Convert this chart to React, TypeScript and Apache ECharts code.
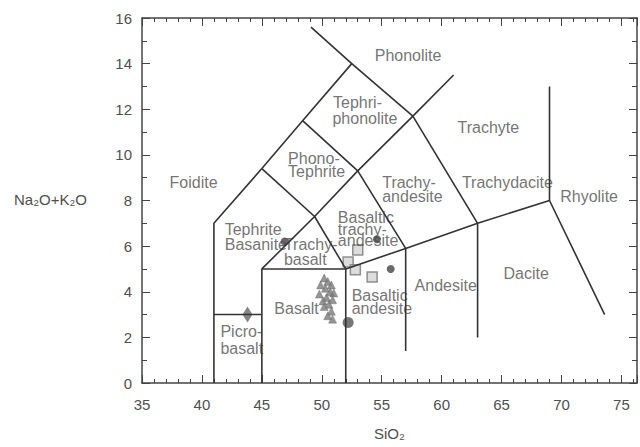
import React, { useEffect, useRef } from "react";
import * as echarts from "echarts";

// TAS field boundaries (SiO2, Na2O+K2O)
const boundaries: [number, number][][] = [
  [[41, 0], [41, 7], [45, 9.4], [48.4, 11.5], [52.5, 14], [49.1, 15.6]],
  [[52.5, 14], [57.6, 11.7], [63, 7], [69, 8], [73.6, 3]],
  [[41, 3], [45, 3]],
  [[45, 0], [45, 5], [52, 5], [52, 0]],
  [[45, 5], [49.4, 7.3], [52, 5]],
  [[52, 5], [57, 5.9], [63, 7]],
  [[45, 9.4], [49.4, 7.3]],
  [[48.4, 11.5], [53, 9.3], [57, 5.9], [57, 1.4]],
  [[49.4, 7.3], [53, 9.3], [57.6, 11.7], [61, 13.5]],
  [[63, 2], [63, 7]],
  [[69, 8], [69, 13]],
];

const regionLabels: [string, number, number, string][] = [
  ["Phonolite", 57.2, 14.35, "center"],
  ["Tephri-", 50.9, 12.3, "left"],
  ["phonolite", 50.85, 11.6, "left"],
  ["Trachyte", 63.9, 11.2, "center"],
  ["Phono-", 47.15, 9.86, "left"],
  ["Tephrite", 47.15, 9.28, "left"],
  ["Foidite", 39.3, 8.77, "center"],
  ["Trachy-", 55.0, 8.77, "left"],
  ["andesite", 55.0, 8.19, "left"],
  ["Trachydacite", 61.65, 8.77, "left"],
  ["Rhyolite", 69.85, 8.19, "left"],
  ["Tephrite", 41.86, 6.74, "left"],
  ["Basanite", 41.86, 6.05, "left"],
  ["Trachy-", 46.8, 6.05, "left"],
  ["basalt", 46.8, 5.4, "left"],
  ["Basaltic", 51.3, 7.25, "left"],
  ["trachy-", 51.3, 6.74, "left"],
  ["andesite", 51.3, 6.23, "left"],
  ["Andesite", 57.7, 4.28, "left"],
  ["Dacite", 67.05, 4.78, "center"],
  ["Basalt", 46.0, 3.26, "left"],
  ["Basaltic", 52.45, 3.84, "left"],
  ["andesite", 52.45, 3.26, "left"],
  ["Picro-", 41.5, 2.25, "left"],
  ["basalt", 41.5, 1.52, "left"],
];

const xAxisTitle = "SiO₂";
const yAxisTitle = "Na₂O+K₂O";

const diamondPoints: [number, number][] = [[43.8, 3.0]];
const clusterPoints: [number, number][] = [
  [50.2, 4.6], [50.5, 4.45], [50.8, 4.3], [50.3, 4.15], [50.7, 4.0], [51.0, 3.95],
  [50.4, 3.75], [50.9, 3.65], [50.6, 3.45], [50.2, 3.35], [50.8, 3.15], [50.5, 2.95], [50.9, 2.8],
  [49.9, 4.3], [49.8, 3.9], [50.1, 3.6],
];
const squarePoints: [number, number][] = [[53.0, 5.83], [52.2, 5.3], [52.8, 4.96], [54.2, 4.65]];
const bigDarkPoints: [number, number][] = [[52.2, 2.65]];
const darkDots: [number, number][] = [[55.75, 5.0], [46.9, 6.2], [54.6, 6.3]];

const FONT = "'Liberation Sans', Arial, sans-serif";
const TEXT = "#4f4f4f";
const LINE = "#333";
const AXIS = "#444";

function makeX(position: string, showLabel: boolean) {
  return {
    type: "value",
    position,
    min: 35,
    max: 76.3,
    interval: 5,
    axisLine: { show: true, onZero: false, lineStyle: { color: AXIS, width: 1.5 } },
    splitLine: { show: false },
    axisTick: { show: true, inside: true, length: 8, lineStyle: { color: AXIS } },
    minorTick: { show: true, splitNumber: 5, length: 4, lineStyle: { color: AXIS } },
    axisLabel: { show: showLabel, color: TEXT, fontSize: 15, fontFamily: FONT, margin: 14 },
  };
}

function makeY(position: string, showLabel: boolean) {
  return {
    type: "value",
    position,
    min: 0,
    max: 16,
    interval: 2,
    axisLine: { show: true, onZero: false, lineStyle: { color: AXIS, width: 1.5 } },
    splitLine: { show: false },
    axisTick: { show: true, inside: true, length: 8, lineStyle: { color: AXIS } },
    minorTick: { show: true, splitNumber: 2, length: 5, lineStyle: { color: AXIS } },
    axisLabel: { show: showLabel, color: TEXT, fontSize: 15, fontFamily: FONT, margin: 10 },
  };
}

export default function App() {
  const ref = useRef<HTMLDivElement>(null);
  useEffect(() => {
    if (!ref.current) return;
    const chart = echarts.init(ref.current, null, { renderer: "svg" });
    const series: any[] = boundaries.map((b) => ({
      type: "line",
      data: b,
      showSymbol: false,
      symbol: "none",
      lineStyle: { color: LINE, width: 1.6 },
    }));
    series.push({
      type: "scatter",
      data: clusterPoints,
      symbol: "triangle",
      symbolSize: 8,
      itemStyle: { color: "#7a7a7a", borderColor: "#666", borderWidth: 0.5 },
    });
    series.push({
      type: "scatter",
      data: diamondPoints,
      symbol: "diamond",
      symbolSize: [10, 16],
      itemStyle: { color: "#666" },
    });
    series.push({
      type: "scatter",
      data: squarePoints,
      symbol: "rect",
      symbolSize: 10,
      itemStyle: { color: "#d4d4d4", borderColor: "#777", borderWidth: 1.5 },
    });
    series.push({
      type: "scatter",
      data: bigDarkPoints,
      symbol: "circle",
      symbolSize: 11,
      itemStyle: { color: "#555" },
    });
    series.push({
      type: "scatter",
      data: darkDots,
      symbol: "circle",
      symbolSize: 8,
      itemStyle: { color: "#444" },
    });
    series.push({
      type: "scatter",
      symbolSize: 1,
      itemStyle: { color: "transparent" },
      data: regionLabels.map(([name, x, y, align]) => ({
        name,
        value: [x, y],
        label: {
          show: true,
          position: align === "left" ? "right" : "inside",
          distance: 0,
          formatter: "{b}",
          color: TEXT,
          fontSize: 16,
          fontFamily: FONT,
        },
      })),
    });
    chart.setOption({
      animation: false,
      grid: { left: 142, right: 3, top: 18, bottom: 64 },
      xAxis: [makeX("bottom", true), makeX("top", false)],
      yAxis: [makeY("left", true), makeY("right", false)],
      graphic: [
        {
          type: "text",
          left: 374,
          top: 426,
          style: { text: xAxisTitle, fill: TEXT, fontSize: 15, fontFamily: FONT },
        },
        {
          type: "text",
          left: 14,
          top: 192,
          style: { text: yAxisTitle, fill: TEXT, fontSize: 15, fontFamily: FONT },
        },
      ],
      series,
    });
    return () => chart.dispose();
  }, []);
  return <div ref={ref} style={{ width: 640, height: 447, position: "absolute", left: 0, top: 0 }} />;
}
